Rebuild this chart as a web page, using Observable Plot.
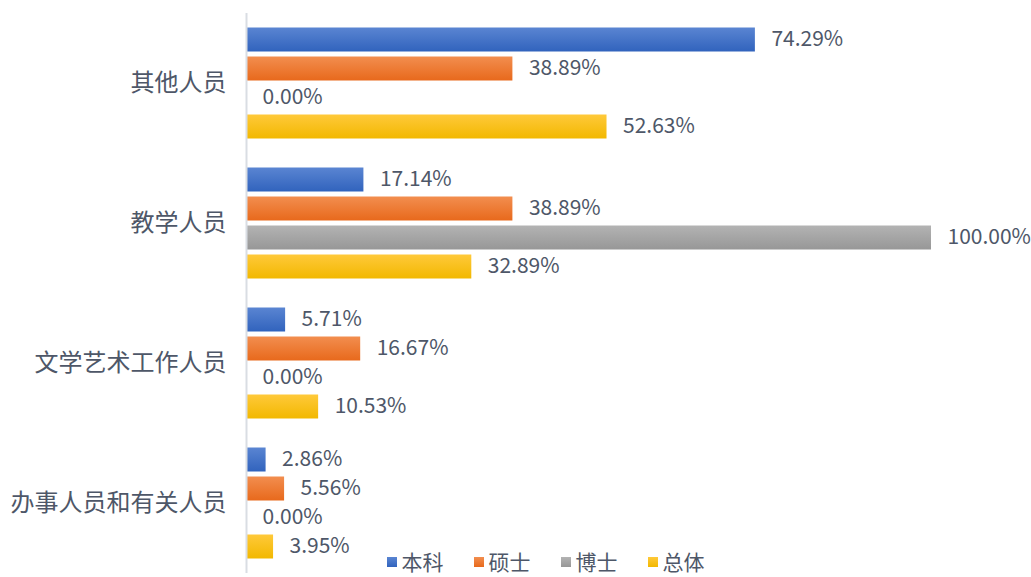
<!DOCTYPE html>
<html>
<head>
<meta charset="utf-8">
<script src="https://cdn.jsdelivr.net/npm/d3@7"></script>
<script src="https://cdn.jsdelivr.net/npm/@observablehq/plot@0.6"></script>
<style>
  html, body { margin: 0; padding: 0; background: #fff; overflow: hidden; }
  #wrap { position: relative; width: 1031px; height: 577px; font-family: "Noto Sans CJK SC", "Noto Sans", sans-serif; }
  #legend { position: absolute; left: 0; top: 551px; width: 1031px; display: flex; justify-content: center; padding-left: 60px; box-sizing: border-box; font-size: 21px; line-height: 21px; color: #4e5768; white-space: nowrap; }
  .item { display: flex; align-items: center; margin: 0 15px; }
  .sw { width: 10px; height: 10px; margin-right: 5px; }
</style>
</head>
<body>
<div id="wrap"><div id="chart"></div><div id="legend"></div></div>
<script>
const categories = ["其他人员", "教学人员", "文学艺术工作人员", "办事人员和有关人员"];
const series = ["本科", "硕士", "博士", "总体"];
const values本科 = [74.29, 17.14, 5.71, 2.86];
const values硕士 = [38.89, 38.89, 16.67, 5.56];
const values博士 = [0.00, 100.00, 0.00, 0.00];
const values总体 = [52.63, 32.89, 10.53, 3.95];
const colors = ["#4472C4", "#ED7D31", "#A5A5A5", "#FFC000"];
const gradTop = ["#5a85d2", "#f28e4f", "#b3b3b3", "#ffc93a"];
const gradBot = ["#3163bd", "#e8691c", "#979797", "#f2b800"];

const seriesValues = [values本科, values硕士, values博士, values总体];
const data = [];
categories.forEach((c, i) => {
  series.forEach((s, j) => data.push({cat: c, series: s, value: seriesValues[j][i]}));
});

const textColor = "#4e5768";
const plot = Plot.plot({
  width: 1031,
  height: 577,
  marginLeft: 246,
  marginRight: 100,
  marginTop: 12.5,
  marginBottom: 4.5,
  style: {fontFamily: "'Noto Sans CJK SC', 'Noto Sans', sans-serif", background: "#fff"},
  x: {domain: [0, 100], axis: null},
  y: {domain: series, paddingInner: 1/6, paddingOuter: 5/12, axis: null},
  fy: {domain: categories, padding: 0, axis: "left", label: null, tickSize: 0, tickPadding: 20, fontSize: 24},
  color: {domain: series, range: series.map((s, i) => `url(#grad${i})`)},
  marks: [
    Plot.barX(data, {fy: "cat", y: "series", x1: 0, x2: "value", fill: "series"}),
    Plot.ruleX([0], {stroke: "#d9dde3", strokeWidth: 2}),
    Plot.text(data, {fy: "cat", y: "series", x: "value", text: d => d.value.toFixed(2) + "%", dx: 16, dy: -1, textAnchor: "start", fill: textColor, fontSize: 21})
  ]
});

const svg = d3.select(plot);
const defs = svg.insert("defs", ":first-child");
colors.forEach((c, i) => {
  const g = defs.append("linearGradient").attr("id", `grad${i}`).attr("x1", 0).attr("y1", 0).attr("x2", 0).attr("y2", 1);
  g.append("stop").attr("offset", "0%").attr("stop-color", gradTop[i]);
  g.append("stop").attr("offset", "100%").attr("stop-color", gradBot[i]);
});
document.getElementById("chart").appendChild(plot);
svg.selectAll("g[aria-label^='fy-axis'] text").attr("fill", textColor).style("font-size", "24px");
svg.selectAll("g[aria-label^='fy-axis']").attr("fill", textColor);

const legend = document.getElementById("legend");
series.forEach((s, i) => {
  const it = document.createElement("div");
  it.className = "item";
  it.innerHTML = `<span class="sw" style="background:linear-gradient(${gradTop[i]}, ${gradBot[i]})"></span><span>${s}</span>`;
  legend.appendChild(it);
});
</script>
</body>
</html>
